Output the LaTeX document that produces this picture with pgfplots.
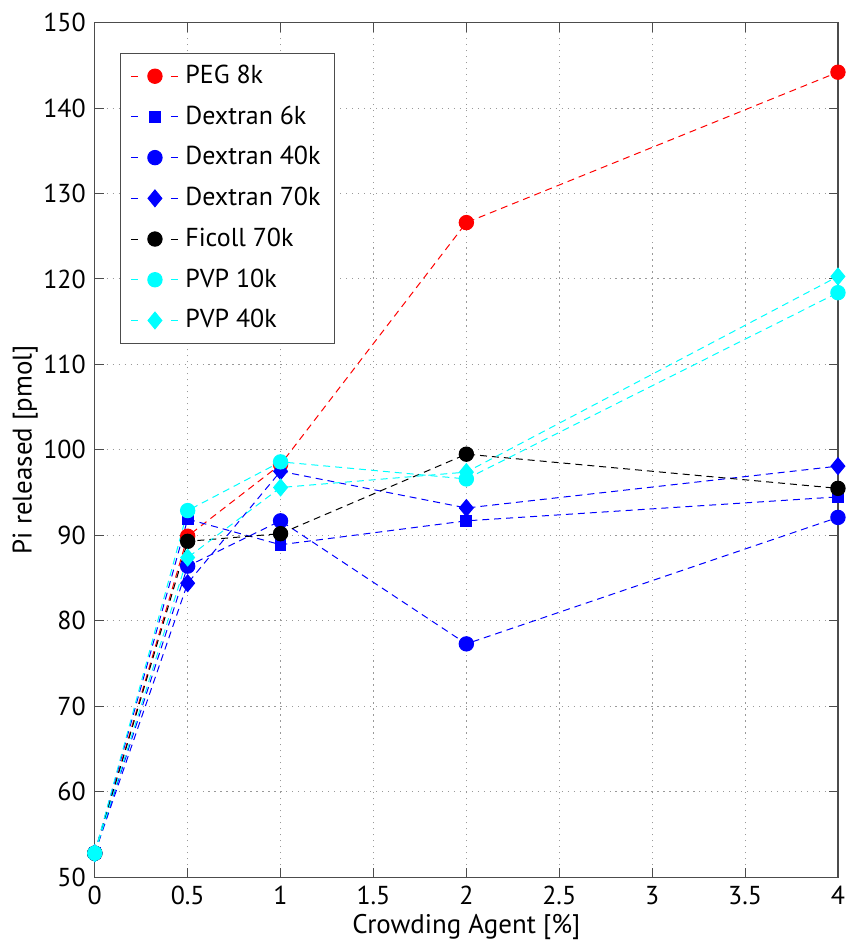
\documentclass[border=0pt]{standalone}
\usepackage{pgfplots}
\pgfplotsset{compat=1.18}
\usepackage{fontspec}
\setmainfont{PT Sans}
\definecolor{mcyan}{rgb}{0,1,1}
\definecolor{mblue}{rgb}{0,0,1}
\definecolor{mred}{rgb}{1,0,0}
\begin{document}
\fontsize{13}{15}\selectfont
\begin{tikzpicture}
\begin{axis}[
  scale only axis,
  width=372.5pt, height=428.3pt,
  xmin=0, xmax=4, ymin=50, ymax=150,
  xtick={0,0.5,1,1.5,2,2.5,3,3.5,4},
  xticklabels={0,0.5,1,1.5,2,2.5,3,3.5,4},
  ytick={50,60,...,150},
  /pgf/number format/assume math mode=true,
  tick align=inside,
  major tick length=4.5pt,
  tick style={color=black!70, line width=0.5pt},
  axis line style={color=black!70, line width=0.6pt},
  grid=major,
  grid style={dash pattern=on 0.6pt off 2.4pt, color=black!40, line width=0.5pt},
  xlabel={Crowding Agent [\%]},
  ylabel={Pi released [pmol]},
  xlabel style={yshift=4pt},
  ylabel style={yshift=-6.1pt},
  every tick label/.append style={font=\fontsize{13}{15}\selectfont},
  label style={font=\fontsize{13.5}{15}\selectfont},
  legend style={at={(0.034,0.965)}, anchor=north west, draw=black!70, line width=0.5pt,
    font=\fontsize{13}{15}\selectfont, inner xsep=5pt, inner ysep=4pt,
    row sep=5.2pt, cells={anchor=west}},
  legend image code/.code={
    \draw[#1,solid] (0pt,0pt) -- (3.5pt,0pt);
    \draw[#1,solid] (20pt,0pt) -- (23.5pt,0pt);
    \draw[#1] plot coordinates {(12pt,0pt)};
    \path (25pt,0pt);
  },
  every axis plot/.append style={line width=0.5pt, dash pattern=on 3.5pt off 2.5pt},
]
\addplot[color=mred, mark=*, mark options={solid, fill=mred, draw=mred}, mark size=3.6pt]
  coordinates {(0,52.8) (0.5,89.9) (1,98.3) (2,126.6) (4,144.2)};
\addlegendentry{PEG 8k}
\addplot[color=mblue, mark=square*, mark options={solid, fill=mblue, draw=mblue}, mark size=2.7pt]
  coordinates {(0,52.8) (0.5,91.9) (1,88.9) (2,91.7) (4,94.5)};
\addlegendentry{Dextran 6k}
\addplot[color=mblue, mark=*, mark options={solid, fill=mblue, draw=mblue}, mark size=3.6pt]
  coordinates {(0,52.8) (0.5,86.4) (1,91.7) (2,77.3) (4,92.1)};
\addlegendentry{Dextran 40k}
\addplot[color=mblue, mark=diamond*, mark options={solid, fill=mblue, draw=mblue, xscale=1.1}, mark size=4.2pt]
  coordinates {(0,52.8) (0.5,84.4) (1,97.5) (2,93.2) (4,98.1)};
\addlegendentry{Dextran 70k}
\addplot[color=black, mark=*, mark options={solid, fill=black, draw=black}, mark size=3.6pt]
  coordinates {(0,52.8) (0.5,89.3) (1,90.2) (2,99.5) (4,95.5)};
\addlegendentry{Ficoll 70k}
\addplot[color=mcyan, mark=*, mark options={solid, fill=mcyan, draw=mcyan}, mark size=3.6pt]
  coordinates {(0,52.8) (0.5,92.9) (1,98.6) (2,96.6) (4,118.4)};
\addlegendentry{PVP 10k}
\addplot[color=mcyan, mark=diamond*, mark options={solid, fill=mcyan, draw=mcyan, xscale=1.1}, mark size=4.2pt]
  coordinates {(0,52.8) (0.5,87.4) (1,95.6) (2,97.4) (4,120.3)};
\addlegendentry{PVP 40k}
\end{axis}
\pgfresetboundingbox
\path ([shift={(-47.5pt,-32pt)}]current axis.south west) rectangle ([shift={(377pt,439.65pt)}]current axis.south west);
\end{tikzpicture}
\end{document}
